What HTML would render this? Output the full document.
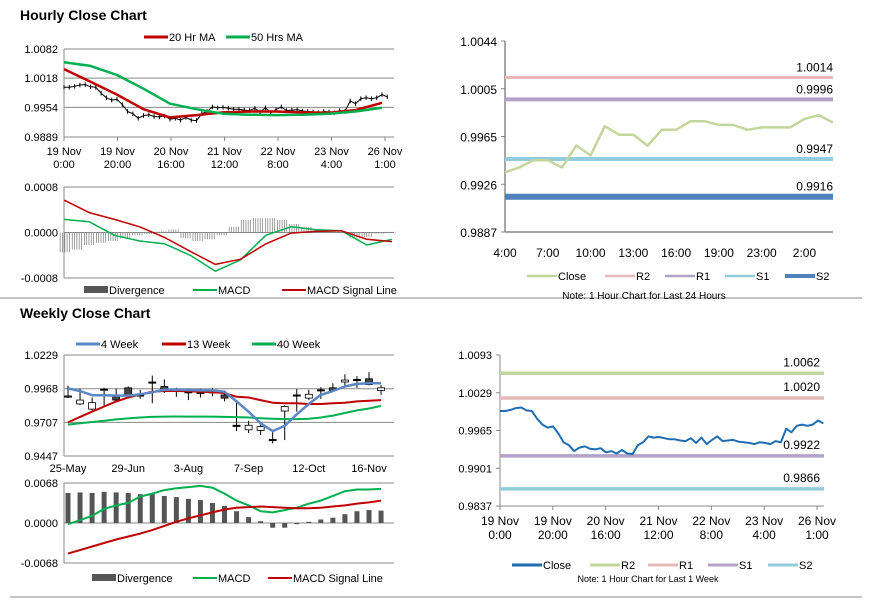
<!DOCTYPE html>
<html><head><meta charset="utf-8">
<style>
body{margin:0;background:#fff;}
svg{display:block;font-family:"Liberation Sans",Arial,sans-serif;}
</style></head>
<body>
<svg id="c" width="873" height="601" viewBox="0 0 873 601">
<text x="20" y="20" font-size="14" font-weight="bold" fill="#000">Hourly Close Chart</text>
<text x="20" y="318" font-size="14" font-weight="bold" fill="#000">Weekly Close Chart</text>
<line x1="0" y1="298" x2="862" y2="298" stroke="#888" stroke-width="1"/>
<line x1="10" y1="597" x2="862" y2="597" stroke="#888" stroke-width="1"/>
</svg>
<script>
// ---------- DATA ----------
const hourCloseWeek=[.9998,.9998,1.0000,1.0003,1.0004,.9999,.9998,.9985,.9975,.9970,.9972,.9960,.9945,.9940,.9930,.9936,.9938,.9934,.9933,.9935,.9928,.9930,.9926,.9932,.9926,.9925,.9940,.9945,.9955,.9953,.9954,.9952,.9950,.9950,.9948,.9947,.9952,.9944,.9953,.9942,.9949,.9955,.9947,.9948,.9949,.9946,.9945,.9944,.9942,.9945,.9944,.9942,.9947,.9945,.9968,.9962,.9973,.9975,.9973,.9975,.9982,.9977];
const ma20=[1.0038,1.0010,.9982,.9950,.9932,.9937,.9943,.9945,.9945,.9943,.9942,.9948,.9964];
const ma50=[1.0053,1.0045,1.0025,.9995,.9962,.9950,.9940,.9938,.9937,.9938,.9940,.9945,.9953];
const hourTicks=[["19 Nov","0:00"],["19 Nov","20:00"],["20 Nov","16:00"],["21 Nov","12:00"],["22 Nov","8:00"],["23 Nov","4:00"],["26 Nov","1:00"]];
const hMacd=[.00023,.00019,-.00005,-.00015,-.0002,-.0004,-.00068,-.00048,-.00005,.0001,.00005,.00003,-.00022,-.00012];
const hSignal=[.00057,.00035,.00023,.0001,-.00009,-.00033,-.00056,-.00047,-.0002,-.00001,.00002,.00003,-.00012,-.00016];
const hDiv=[-.00035,-.0003,-.00022,-.00018,-.00015,-.0001,-.00005,-.00003,.00002,.00005,-.0001,-.00015,-.00012,-.00005,.0001,.00022,.00025,.00025,.00022,.00015,.0001,.00005,.00003,.00001,-.0001,-.00008,-.00002,.00001];
const dayClose=[.9936,.9940,.9946,.9946,.9940,.9958,.9950,.9974,.9967,.9967,.9958,.9971,.9971,.9978,.9978,.9975,.9975,.9971,.9973,.9973,.9973,.9980,.9983,.9977];
const dayTicks=["4:00","7:00","10:00","13:00","16:00","19:00","23:00","2:00"];
const dayLevels=[1.0014,.9996,.9947,.9916];
const weekLevels=[1.0062,1.0020,.9922,.9866];
const wOpen=[.9912,.9850,.9810,.9965,.9910,.9975,.9920,1.0020,.9985,.9965,.9945,.9940,.9945,.9920,.9685,.9650,.9645,.9575,.9795,.9920,.9895,.9960,.9975,1.0020,1.0040,1.0045,.9955];
const wClose=[.9908,.9880,.9860,.9965,.9880,.9915,.9920,1.0020,.9950,.9965,.9945,.9940,.9945,.9895,.9685,.9685,.9675,.9575,.9830,.9920,.9925,.9960,.9955,1.0035,1.0040,1.0000,.9975];
const wHigh=[.9992,.9968,.9900,.9975,.9968,.9985,.9960,1.0070,1.0040,.9975,.9970,.9968,.9975,.9955,.9865,.9720,.9690,.9650,.9840,.9965,.9960,.9980,1.0010,1.0080,1.0065,1.0095,.9995];
const wLow=[.9895,.9840,.9800,.9830,.9870,.9900,.9890,.9855,.9935,.9905,.9880,.9900,.9910,.9870,.9640,.9625,.9610,.9545,.9570,.9790,.9880,.9890,.9950,.9990,.9975,.9995,.9920];
const w4=[.9970,.9950,.9918,.9918,.9915,.9915,.9925,.9940,.9960,.9962,.9958,.9955,.9955,.9945,.9870,.9790,.9700,.9640,.9680,.9770,.9850,.9920,.9950,.9985,1.0005,1.0010,1.0010];
const w13=[.9707,.9750,.9790,.9830,.9870,.9900,.9925,.9945,.9950,.9950,.9948,.9945,.9940,.9935,.9905,.9900,.9880,.9860,.9855,.9855,.9850,.9850,.9855,.9860,.9870,.9875,.9880];
const w40=[.9690,.9700,.9710,.9720,.9730,.9738,.9745,.9750,.9752,.9753,.9752,.9752,.9752,.9750,.9748,.9745,.9740,.9735,.9733,.9733,.9735,.9745,.9760,.9780,.9800,.9815,.9835];
const weekTicks=["25-May","29-Jun","3-Aug","7-Sep","12-Oct","16-Nov"];
const wDiv=[.0051,.0052,.0051,.0053,.0052,.0051,.0049,.0050,.0046,.0044,.0041,.0039,.0034,.0029,.0020,.0010,.0003,-.0008,-.0008,-.0002,.0002,.0006,.0009,.0015,.0020,.0022,.0021];
const wMacd=[-.0002,.0005,.0012,.0024,.0030,.0034,.0045,.0050,.0056,.0059,.0061,.0063,.0060,.0050,.0038,.0030,.0020,.0018,.0022,.0026,.0033,.0038,.0046,.0054,.0057,.0057,.0058];
const wSignal=[-.0052,-.0046,-.0040,-.0034,-.0028,-.0023,-.0018,-.0012,-.0005,.0002,.0008,.0013,.0018,.0023,.0026,.0027,.0028,.0027,.0026,.0025,.0025,.0026,.0028,.0030,.0033,.0035,.0038];

// ---------- HELPERS ----------
const svg=document.getElementById('c');
const NS='http://www.w3.org/2000/svg';
function mk(tag,attrs,parent){const e=document.createElementNS(NS,tag);for(const k in attrs)e.setAttribute(k,attrs[k]);(parent||svg).appendChild(e);return e;}
function txt(x,y,s,size,anchor,parent){const t=mk('text',{x:x,y:y,'font-size':size,'text-anchor':anchor||'start',fill:'#000'},parent);t.textContent=s;return t;}
function lin(x0,x1,n){return i=>x0+(x1-x0)*i/(n-1);}
function scl(v0,v1,y0,y1){return v=>y0+(v-v0)*(y1-y0)/(v1-v0);}
function poly(arr,fx,fy,color,w,parent){const p=mk('polyline',{points:arr.map((v,i)=>fx(i).toFixed(1)+','+fy(v).toFixed(1)).join(' '),fill:'none',stroke:color,'stroke-width':w,'stroke-linejoin':'round'},parent);return p;}
function legend(items,y,parent){items.forEach(it=>{
  if(it.bar) mk('rect',{x:it.x,y:y-4,width:it.len,height:7,fill:'#555'},parent);
  else mk('line',{x1:it.x,y1:y,x2:it.x+it.len,y2:y,stroke:it.c,'stroke-width':it.w},parent);
  txt(it.x+it.len+1,y+4,it.t,11,'start',parent);});}

// ---------- HOURLY PRICE (top-left) ----------
{
const g=mk('g',{});


const fy=scl(1.0082,0.9889,49,137);
const ticks=[1.0082,1.0018,0.9954,0.9889];
ticks.forEach(t=>{mk('line',{x1:64,y1:fy(t),x2:394,y2:fy(t),stroke:'#888','stroke-width':1},g);txt(58,fy(t)+4,t.toFixed(4),11,'end',g);});
mk('line',{x1:64,y1:49,x2:64,y2:137,stroke:'#888'},g);
const tx=lin(64,385,7);
hourTicks.forEach((t,i)=>{mk('line',{x1:tx(i),y1:137,x2:tx(i),y2:141,stroke:'#888'},g);txt(tx(i),155,t[0],11,'middle',g);txt(tx(i),168,t[1],11,'middle',g);});
const fx=i=>64+i*5.3;
hourCloseWeek.forEach((v,i)=>{const b=mk('line',{x1:fx(i),y1:fy(v+0.0005),x2:fx(i),y2:fy(v-0.0005),stroke:'#000','stroke-width':1},g);

});
poly(hourCloseWeek,fx,fy,'#000',1,g);
const fm=i=>64+i*26.5;
const l20=poly(ma20,fm,fy,'#c00000',2.5,g);


const l50=poly(ma50,fm,fy,'#00b050',2.5,g);


legend([{x:144,len:24,c:'#c00000',w:3,t:'20 Hr MA'},{x:226,len:24,c:'#00b050',w:3,t:'50 Hrs MA'}],37,g);
}
// ---------- HOURLY MACD ----------
{
const g=mk('g',{});


const fy=scl(0.0008,-0.0008,187,278);
[0.0008,0,-0.0008].forEach(t=>{mk('line',{x1:64,y1:fy(t),x2:394,y2:fy(t),stroke:'#888'},g);txt(58,fy(t)+4,t.toFixed(4),11,'end',g);});
mk('line',{x1:64,y1:187,x2:64,y2:278,stroke:'#888'},g);
const fd=lin(66,392,hDiv.length);
hDiv.forEach((v,i)=>{const w=11.6;for(let k=0;k<5;k++){const x=fd(i)-w/2+k*2.3;const b=mk('line',{x1:x,y1:fy(0),x2:x,y2:fy(v),stroke:'#888','stroke-width':0.8},g);

}});
const fx=lin(64,392,hMacd.length);
poly(hMacd,fx,fy,'#00b050',1.5,g);
poly(hSignal,fx,fy,'#c00000',1.5,g);
legend([{x:84,len:24,bar:1,t:'Divergence'},{x:193,len:24,c:'#00b050',w:2,t:'MACD'},{x:282,len:24,c:'#c00000',w:2,t:'MACD Signal Line'}],290,g);
}
// ---------- DAY PIVOT (top-right) ----------
{
const g=mk('g',{});


const fy=scl(1.0044,0.9887,41,232);
[1.0044,1.0005,0.9965,0.9926,0.9887].forEach(t=>{const y=scl(0,4,41,232)([1.0044,1.0005,0.9965,0.9926,0.9887].indexOf(t));mk('line',{x1:501,y1:y,x2:505,y2:y,stroke:'#888'},g);txt(497,y+5,t.toFixed(4),12,'end',g);});
mk('line',{x1:505,y1:41,x2:505,y2:232,stroke:'#888','stroke-width':1.5},g);
mk('line',{x1:505,y1:232,x2:833,y2:232,stroke:'#888','stroke-width':1.5},g);
const fx=lin(505,833,dayClose.length);
dayTicks.forEach((t,i)=>{txt(fx(i*3),257,t,12,'middle',g);});
const cols=['#e6b9b8','#b3a2c7','#93cddd','#4f81bd'],ws=[3,4,4,6];
dayLevels.forEach((v,i)=>{const l=mk('line',{x1:505,y1:fy(v),x2:833,y2:fy(v),stroke:cols[i],'stroke-width':ws[i]},g);


txt(833,fy(v)-6,v.toFixed(4),12,'end',g);});
const cl=poly(dayClose,fx,fy,'#c3d69b',2.5,g);


legend([{x:527,len:30,c:'#c3d69b',w:2.5,t:'Close'},{x:605,len:30,c:'#e6b9b8',w:2.5,t:'R2'},{x:665,len:30,c:'#b3a2c7',w:2.5,t:'R1'},{x:725,len:30,c:'#93cddd',w:2.5,t:'S1'},{x:785,len:30,c:'#4f81bd',w:4,t:'S2'}],276,g);
txt(644,299,'Note: 1 Hour Chart for Last 24 Hours',10,'middle',g);
}
// ---------- WEEK PIVOT (bottom-right) ----------
{
const g=mk('g',{});


const fy=scl(1.0093,0.9837,355,506);
const tk=[1.0093,1.0029,0.9965,0.9901,0.9837];
tk.forEach((t,i)=>{const y=scl(0,4,355,506)(i);mk('line',{x1:496,y1:y,x2:500,y2:y,stroke:'#888'},g);txt(492,y+4,t.toFixed(4),11,'end',g);});
mk('line',{x1:500,y1:355,x2:500,y2:506,stroke:'#888'},g);
mk('line',{x1:500,y1:506,x2:824,y2:506,stroke:'#888'},g);
const tx=lin(500,817,7);
hourTicks.forEach((t,i)=>{mk('line',{x1:tx(i),y1:506,x2:tx(i),y2:510,stroke:'#888'},g);txt(tx(i),525,t[0],12,'middle',g);txt(tx(i),539,t[1],12,'middle',g);});
const cols=['#c3d69b','#e6b9b8','#b3a2c7','#93cddd'];
weekLevels.forEach((v,i)=>{const l=mk('line',{x1:500,y1:fy(v),x2:824,y2:fy(v),stroke:cols[i],'stroke-width':3.5},g);


txt(820,fy(v)-7,v.toFixed(4),12,'end',g);});
const fx=i=>500+i*5.3;
const cl=poly(hourCloseWeek,fx,fy,'#1f6db3',2,g);


legend([{x:512,len:30,c:'#1f6db3',w:3,t:'Close'},{x:590,len:30,c:'#c3d69b',w:3,t:'R2'},{x:648,len:30,c:'#e6b9b8',w:3,t:'R1'},{x:708,len:30,c:'#b3a2c7',w:3,t:'S1'},{x:768,len:30,c:'#93cddd',w:3,t:'S2'}],565,g);
txt(648,582,'Note: 1 Hour Chart for Last 1 Week',9,'middle',g);
}
// ---------- WEEKLY CANDLES ----------
{
const g=mk('g',{});


const fy=scl(1.0229,0.9447,355,456);
[1.0229,0.9968,0.9707,0.9447].forEach(t=>{mk('line',{x1:64,y1:fy(t),x2:394,y2:fy(t),stroke:'#888'},g);txt(58,fy(t)+4,t.toFixed(4),11,'end',g);});
mk('line',{x1:64,y1:355,x2:64,y2:456,stroke:'#888'},g);
const fx=i=>68+i*12.04;
weekTicks.forEach((t,i)=>txt(fx(i*5)+(i==0?0:0),472,t,11,'middle',g));
wOpen.forEach((o,i)=>{const c=wClose[i],x=fx(i);
const w=mk('line',{x1:x,y1:fy(wHigh[i]),x2:x,y2:fy(wLow[i]),stroke:'#000','stroke-width':1},g);


const top=fy(Math.max(o,c)),bot=fy(Math.min(o,c));
const r=mk('rect',{x:x-3.5,y:top,width:7,height:Math.max(bot-top,1.2),fill:c>o?'#fff':(c<o?'#444':'#000'),stroke:'#000','stroke-width':c==o?0.8:0.8},g);

});
const a=poly(w40,fx,fy,'#00b050',2,g);


const b=poly(w13,fx,fy,'#c00000',2,g);


const c=poly(w4,fx,fy,'#5b87c5',2.5,g);


legend([{x:76,len:24,c:'#5b87c5',w:3,t:'4 Week'},{x:162,len:24,c:'#c00000',w:3,t:'13 Week'},{x:252,len:24,c:'#00b050',w:3,t:'40 Week'}],344,g);
}
// ---------- WEEKLY MACD ----------
{
const g=mk('g',{});


const fy=scl(0.0068,-0.0068,483,563);
[0.0068,0,-0.0068].forEach(t=>{mk('line',{x1:64,y1:fy(t),x2:394,y2:fy(t),stroke:'#888'},g);txt(58,fy(t)+4,t.toFixed(4),11,'end',g);});
mk('line',{x1:64,y1:483,x2:64,y2:563,stroke:'#888'},g);
const fx=i=>68+i*12.04;
wDiv.forEach((v,i)=>{const r=mk('rect',{x:fx(i)-2.5,y:Math.min(fy(0),fy(v)),width:5,height:Math.abs(fy(v)-fy(0)),fill:'#555'},g);

});
poly(wMacd,fx,fy,'#00b050',2,g);
poly(wSignal,fx,fy,'#c00000',2,g);
legend([{x:92,len:24,bar:1,t:'Divergence'},{x:193,len:24,c:'#00b050',w:2,t:'MACD'},{x:268,len:24,c:'#c00000',w:2,t:'MACD Signal Line'}],578,g);
}
</script>
</body></html>
